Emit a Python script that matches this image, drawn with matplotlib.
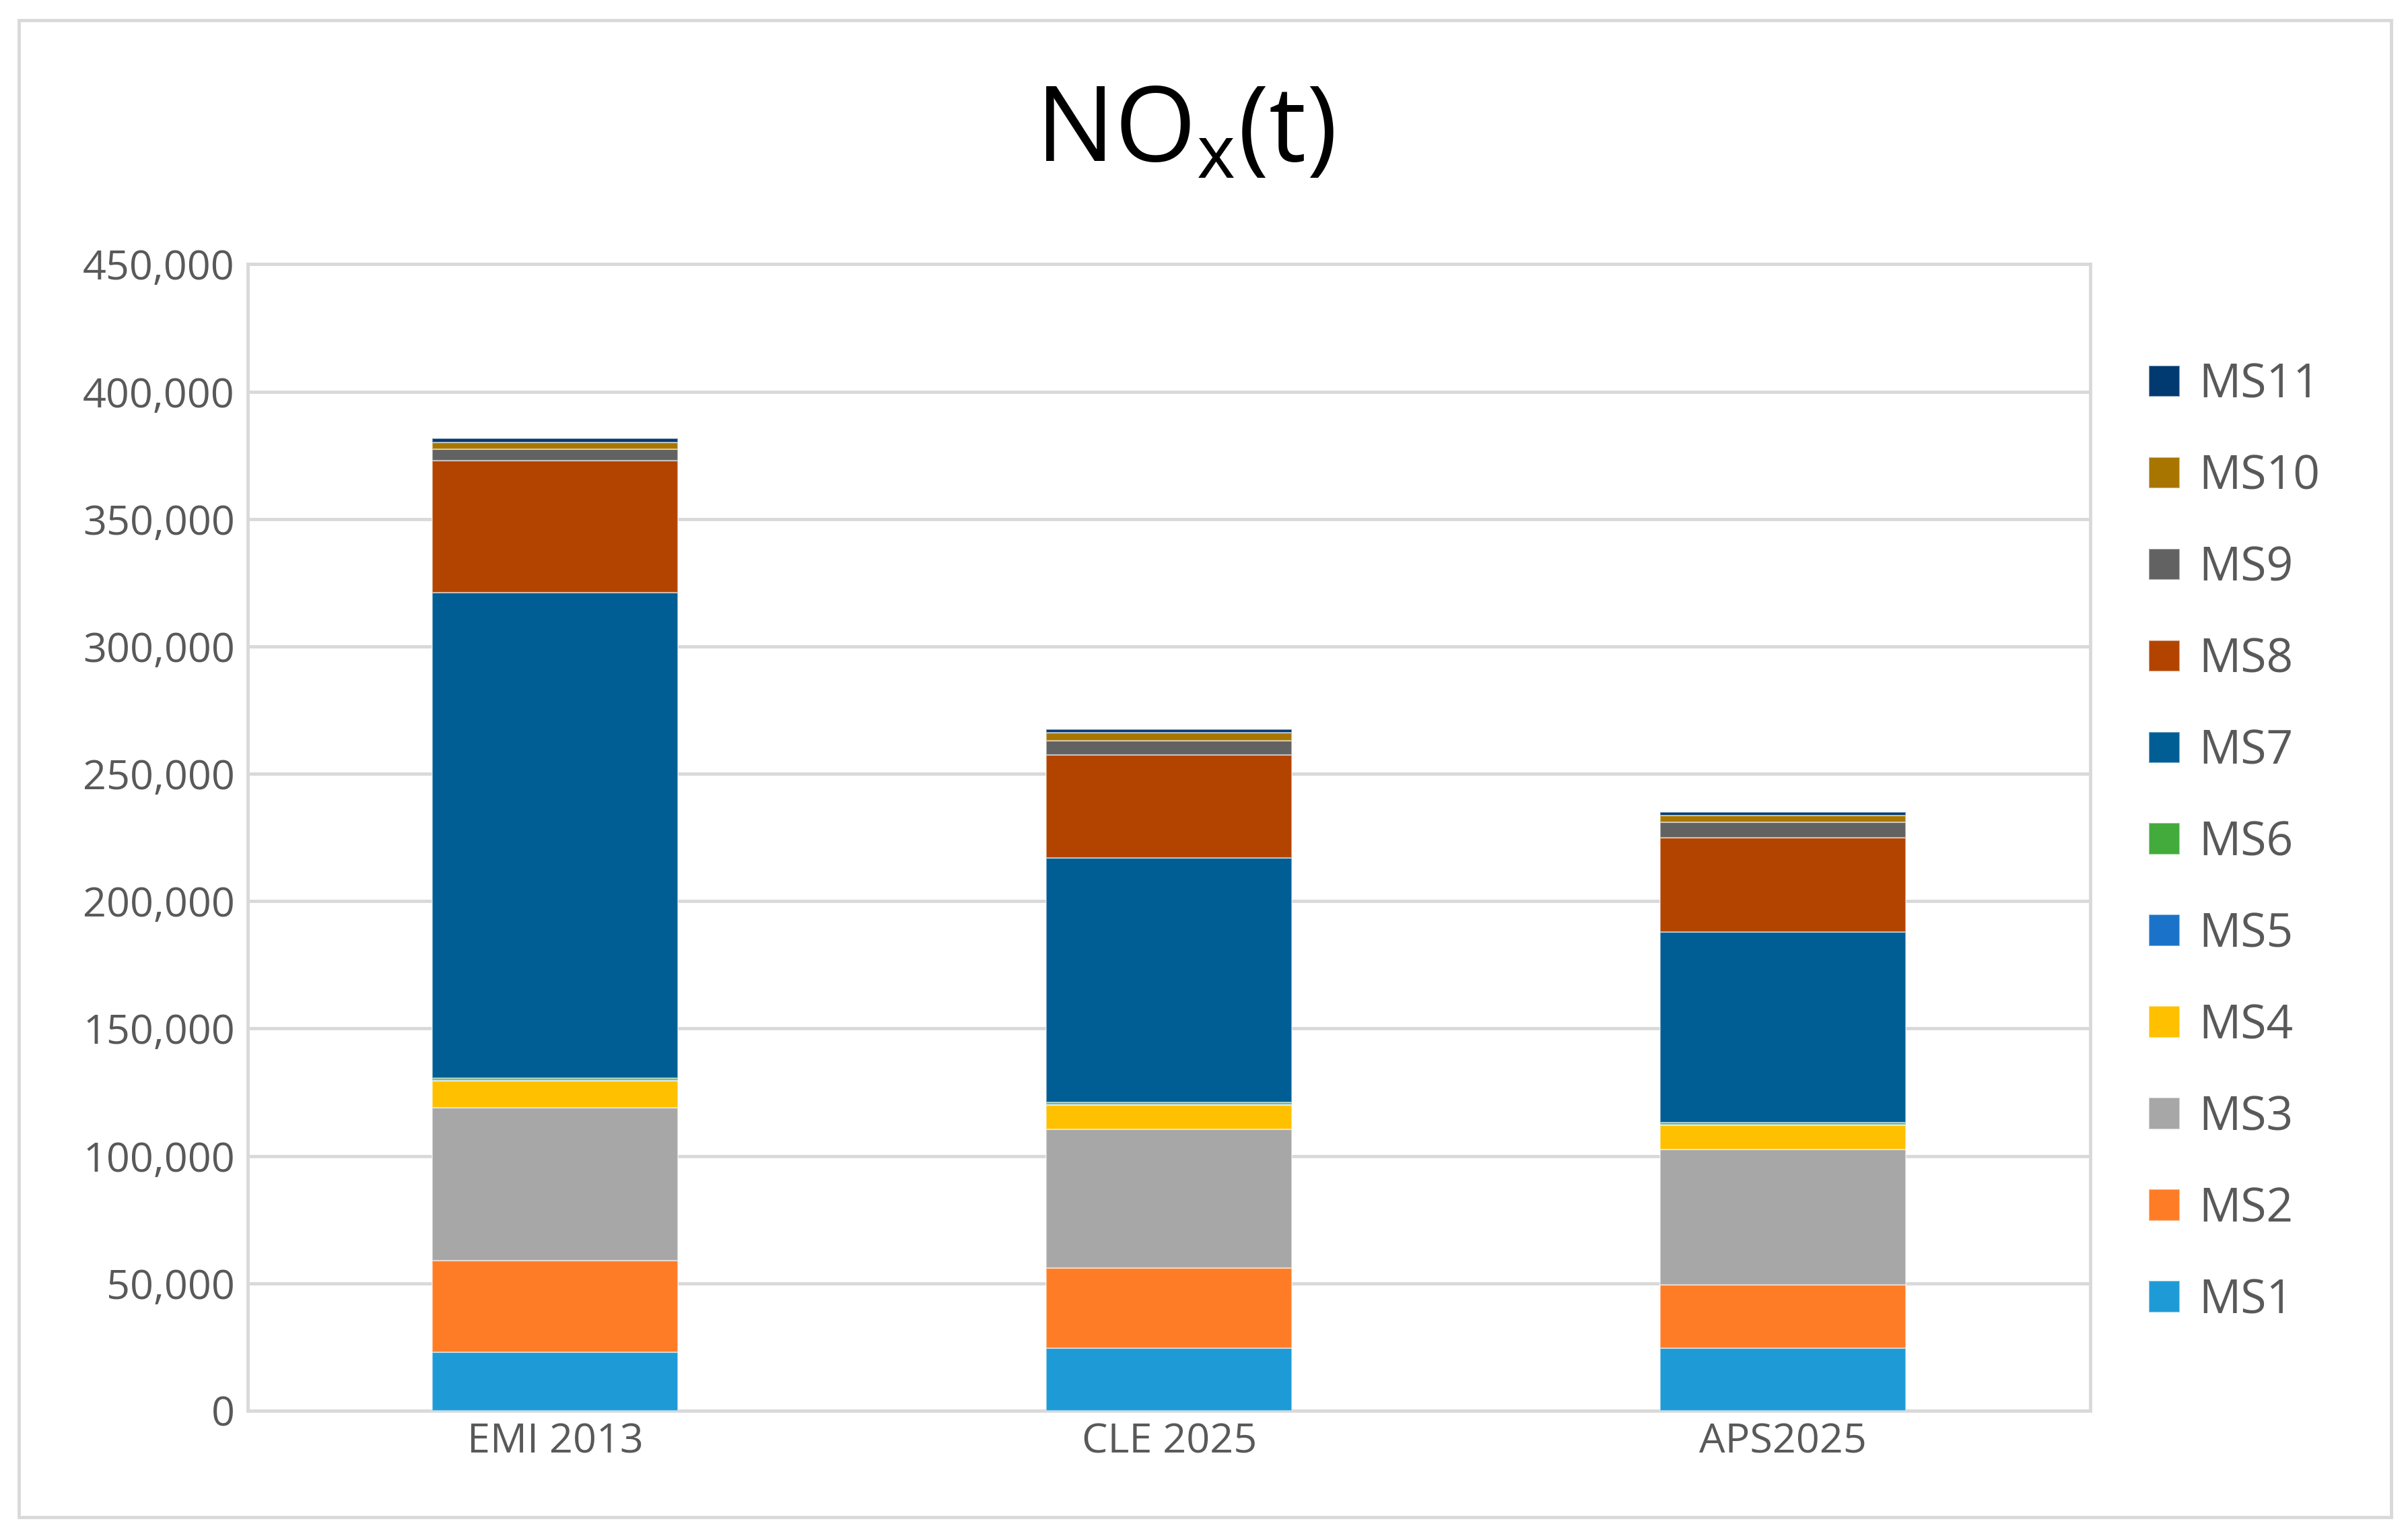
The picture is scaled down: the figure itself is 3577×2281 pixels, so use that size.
import numpy as np
import matplotlib.pyplot as plt
from matplotlib.ticker import FuncFormatter, MultipleLocator
from matplotlib.patches import Rectangle

plt.rcParams['font.family'] = ['Open Sans', 'DejaVu Sans']

# scenarios and sectors
scenarios = ["EMI 2013", "CLE 2025", "APS2025"]
sectors = ["MS1", "MS2", "MS3", "MS4", "MS5", "MS6", "MS7", "MS8", "MS9", "MS10", "MS11"]

# NOx emissions (t) per sector, one value per scenario
ms1 = [23000, 24500, 24500]
ms2 = [36000, 31500, 25000]
ms3 = [60000, 54500, 53000]
ms4 = [10500, 9500, 9500]
ms5 = [300, 300, 300]
ms6 = [700, 700, 700]
ms7 = [190500, 96000, 75000]
ms8 = [52000, 40500, 37000]
ms9 = [4500, 5500, 6000]
ms10 = [2500, 3000, 2500]
ms11 = [1500, 1500, 1500]

colors = ["#1E9BD7", "#FF7C26", "#A7A7A7", "#FFC000", "#1A73C8", "#42AB3C",
          "#005E94", "#B34400", "#626262", "#A87600", "#003A70"]

values = [ms1, ms2, ms3, ms4, ms5, ms6, ms7, ms8, ms9, ms10, ms11]

fig = plt.figure(figsize=(35.77, 22.81), dpi=100)
ax = fig.add_axes([0.103, 0.0816, 0.765, 0.7464])

x = np.arange(len(scenarios))
bottom = np.zeros(len(scenarios))
handles = []
for name, vals, c in zip(sectors, values, colors):
    b = ax.bar(x, vals, 0.4, bottom=bottom, color=c, label=name,
               edgecolor=(1, 1, 1, 0.5), linewidth=1.5, zorder=3)
    handles.append(b)
    bottom += np.array(vals)

ax.set_xlim(-0.5, 2.5)
ax.set_ylim(0, 450000)
ax.yaxis.set_major_locator(MultipleLocator(50000))
ax.yaxis.set_major_formatter(FuncFormatter(lambda v, p: f"{int(v):,}"))
ax.set_xticks(x)
ax.set_xticklabels(scenarios)
ax.tick_params(axis='both', length=0, labelsize=44, labelcolor="#595959")
ax.tick_params(axis='x', pad=12)
ax.tick_params(axis='y', pad=14)
ax.grid(axis='y', color="#D9D9D9", linewidth=3.5, zorder=0)
ax.set_axisbelow(True)
for s in ax.spines.values():
    s.set_color("#D9D9D9")
    s.set_linewidth(3.5)

fig.text(0.492, 0.913, r"NO$_\mathregular{x}$(t)", ha='center', va='center',
         fontsize=112, color="black")

leg = fig.legend(handles[::-1], sectors[::-1], loc='center left',
                 bbox_to_anchor=(0.875, 0.451), frameon=False, fontsize=50,
                 handlelength=0.66, handleheight=0.66, handletextpad=0.4,
                 labelspacing=0.95, labelcolor="#595959")

# outer chart border
fig.patches.append(Rectangle((0.0077, 0.0121), 0.9853, 0.9749, transform=fig.transFigure,
                             fill=False, edgecolor="#D9D9D9", linewidth=3.5))

plt.savefig("out.png")
